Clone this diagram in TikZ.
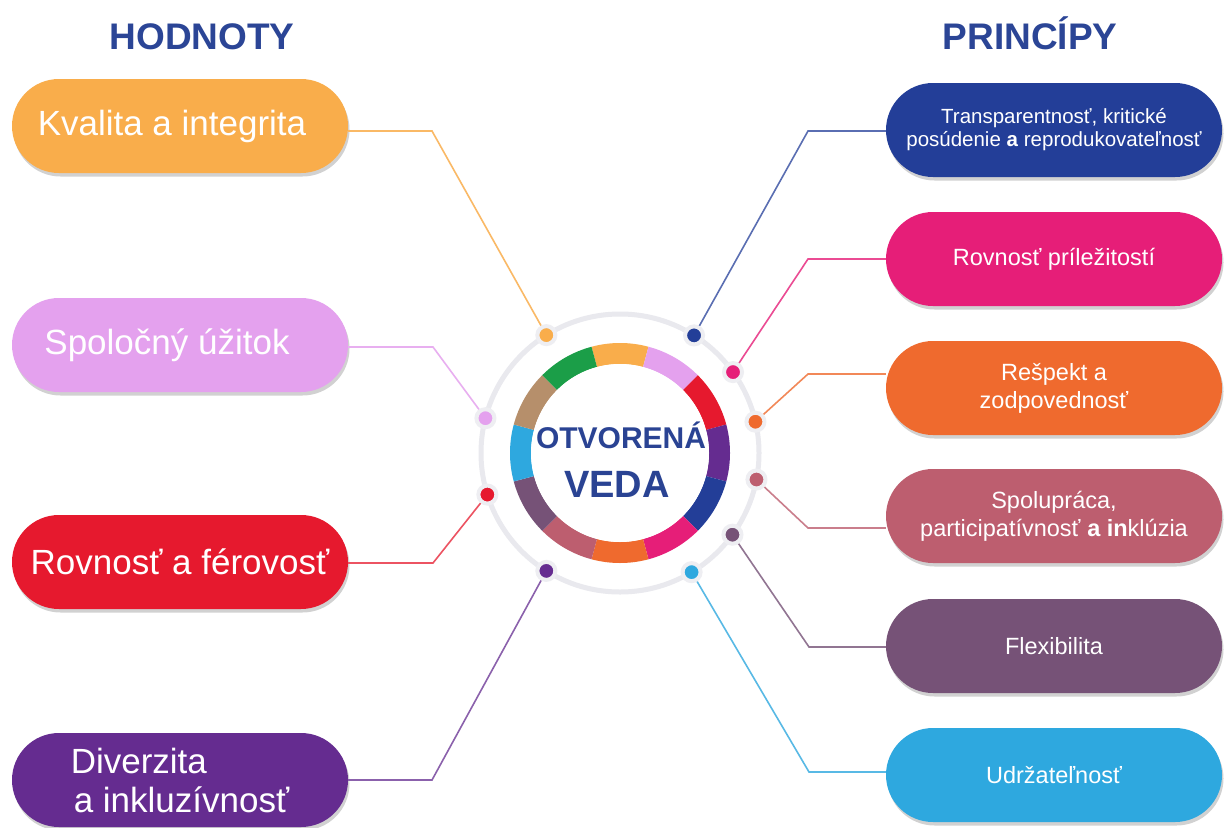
\documentclass[tikz,border=0pt]{standalone}
\usepackage{fontspec}
\setmainfont{Liberation Sans}
\usetikzlibrary{shapes.misc,shadows}
\definecolor{hdr}{HTML}{2B4596}
\definecolor{ctext}{HTML}{2A4393}
\definecolor{hOrange}{HTML}{F9AD4B}
\definecolor{hLilac}{HTML}{E4A1EE}
\definecolor{hRed}{HTML}{E6192E}
\definecolor{hPurple}{HTML}{652C90}
\definecolor{pNavy}{HTML}{233E98}
\definecolor{pPink}{HTML}{E61E78}
\definecolor{pOrange}{HTML}{EF6A2E}
\definecolor{pMauve}{HTML}{BD5E6F}
\definecolor{pPlum}{HTML}{765277}
\definecolor{pCyan}{HTML}{2EA8DF}
\definecolor{ringGreen}{HTML}{1B9E48}
\definecolor{ringTan}{HTML}{B68F6B}
\definecolor{ringGray}{HTML}{E9E9EE}
\definecolor{haloGray}{HTML}{EEEEF2}
\begin{document}
\begin{tikzpicture}[x=1pt,y=1pt,
  pill/.style={rounded rectangle, minimum width=336pt, minimum height=94pt,
    inner sep=0pt, text=white, align=center,
    drop shadow={shadow xshift=1.5pt, shadow yshift=-3.5pt, opacity=0.18, fill=black}},
  bigtxt/.style={font=\fontsize{35}{40}\selectfont},
  smalltxt/.style={font=\fontsize{23.5}{28}\selectfont},
  link/.style={line width=1.6pt},
  dotnode/.style={circle, inner sep=0pt, minimum size=18pt, draw=haloGray, line width=4pt},
  header/.style={font=\bfseries\fontsize{37}{40}\selectfont, text=hdr, anchor=base}]
\useasboundingbox (0,0) rectangle (1225,-827);
\fill[white] (0,0) rectangle (1225,-827);

% headers
\node[header] (th) at (202,-49) {HODNOTY};
\node[header] (tp) at (1030,-49) {PRINCÍPY};

% left boxes (values)
\node[pill, bigtxt, fill=hOrange] (h1) at (180,-126) {Kvalita a integrita\hspace*{16pt}};
\node[pill, bigtxt, fill=hLilac] (h2) at (180,-345) {Spoločný úžitok\hspace*{26pt}};
\node[pill, bigtxt, fill=hRed] (h3) at (180,-562) {Rovnosť a férovosť};
\node[pill, bigtxt, fill=hPurple, align=left] (h4) at (180,-780) {Diverzita\\[-1pt]\hspace*{3pt}a inkluzívnosť};

% right boxes (principles)
\node[pill, fill=pNavy, font=\fontsize{20.5}{23}\selectfont] (p1) at (1054,-130) {Transparentnosť, kritické\\posúdenie \textbf{a} reprodukovateľnosť};
\node[pill, smalltxt, fill=pPink] (p2) at (1054,-259) {Rovnosť príležitostí};
\node[pill, smalltxt, fill=pOrange] (p3) at (1054,-388) {Rešpekt a\\zodpovednosť};
\node[pill, smalltxt, fill=pMauve] (p4) at (1054,-516) {Spolupráca,\\participatívnosť \textbf{a in}klúzia};
\node[pill, smalltxt, fill=pPlum] (p5) at (1054,-646) {Flexibilita};
\node[pill, smalltxt, fill=pCyan] (p6) at (1054,-775) {Udržateľnosť};

% center
\coordinate (C) at (620,-453);
\draw[ringGray, line width=5pt] (C) circle[radius=139];
\begin{scope}[shift={(620,-453)}]
  \foreach \a/\c in {75/hOrange, 45/hLilac, 15/hRed, -15/hPurple, -45/pNavy,
                     -75/pPink, -105/pOrange, -135/pMauve, -165/pPlum,
                     165/pCyan, 135/ringTan, 105/ringGreen}{
    \pgfmathsetmacro{\b}{\a+30}
    \fill[\c] (\a:110) arc[start angle=\a, end angle=\b, radius=110]
      -- (\b:89) arc[start angle=\b, end angle=\a, radius=89] -- cycle;
  }
  \fill[white] (0,0) circle[radius=89];
  % dots on the grey ring
  \node[dotnode, fill=hOrange] (d1) at (122:139) {};
  \node[dotnode, fill=hLilac] (d2) at (165.5:139) {};
  \node[dotnode, fill=hRed] (d3) at (197.4:139) {};
  \node[dotnode, fill=hPurple] (d4) at (238:139) {};
  \node[dotnode, fill=pNavy] (q1) at (57.8:139) {};
  \node[dotnode, fill=pPink] (q2) at (35.6:139) {};
  \node[dotnode, fill=pOrange] (q3) at (13:139) {};
  \node[dotnode, fill=pMauve] (q4) at (-11:139) {};
  \node[dotnode, fill=pPlum] (q5) at (-36:139) {};
  \node[dotnode, fill=pCyan] (q6) at (-59:139) {};
\end{scope}
\node[font=\bfseries\fontsize{30}{32}\selectfont, text=ctext, anchor=base] (ot) at (621,-448) {OTVORENÁ};
\node[font=\bfseries\fontsize{38}{40}\selectfont, text=ctext, anchor=base] (ve) at (617,-497) {VEDA};

% elbow points
\coordinate (e1) at (432,-131);
\coordinate (e2) at (433,-347);
\coordinate (e3) at (433,-563);
\coordinate (e4) at (432,-780);
\coordinate (f1) at (808,-131);
\coordinate (f2) at (808,-259);
\coordinate (f3) at (808,-374);
\coordinate (f4) at (808,-528);
\coordinate (f5) at (809,-647);
\coordinate (f6) at (809,-772);

% connectors
\draw[link, hOrange!85] (e1 -| h1.east) -- (e1) -- (d1);
\draw[link, hLilac!85] (e2 -| h2.east) -- (e2) -- (d2);
\draw[link, hRed!75] (e3 -| h3.east) -- (e3) -- (d3);
\draw[link, hPurple!75] (e4 -| h4.east) -- (e4) -- (d4);
\draw[link, pNavy!75] (f1 -| p1.west) -- (f1) -- (q1);
\draw[link, pPink!80] (f2 -| p2.west) -- (f2) -- (q2);
\draw[link, pOrange!80] (f3 -| p3.west) -- (f3) -- (q3);
\draw[link, pMauve!80] (f4 -| p4.west) -- (f4) -- (q4);
\draw[link, pPlum!80] (f5 -| p5.west) -- (f5) -- (q5);
\draw[link, pCyan!80] (f6 -| p6.west) -- (f6) -- (q6);
\end{tikzpicture}
\end{document}
